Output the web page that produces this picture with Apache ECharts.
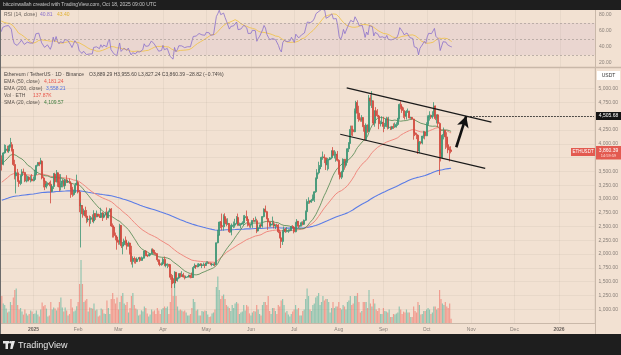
<!DOCTYPE html>
<html><head><meta charset="utf-8">
<script src="https://cdn.jsdelivr.net/npm/echarts@6/dist/echarts.min.js"></script>
<style>html,body{margin:0;padding:0;background:#f2e1d2}#c{width:621px;height:355px}</style>
</head><body><div id="c"></div>
<script>
// ---------- DATA ----------
const firstDay = Date.UTC(2024, 11, 10);   // first candle: 10 Dec 2024, daily candles
// closes before the first visible candle (20 Nov - 9 Dec 2024), used for indicators only
const preCloses = [3070,3355,3325,3395,3360,3415,3325,3655,3580,3590,3705,3705,3645,3615,3840,3790,4000,3995,4005,3710];
const closes = [
 3630,3835,3880,3905,3870,3960,3985,3885,3625,3420,3475,3330,3280,3420,3490,3480,3330,3330,3395,3350,3360,3330,
 3353,3451,3605,3657,3635,3685,3380,3325,3220,3268,3282,3265,3135,3225,3450,3310,3475,3305,3215,3280,3325,3240,3340,3305,3315,3285,3180,3080,3115,3250,3300,
 3125,2870,2880,2730,2785,2690,2620,2635,2630,2660,2600,2735,2675,2725,2690,2665,2745,2670,2715,2740,2660,2765,2815,2510,2490,2335,2310,2235,
 2215,2520,2150,2170,2240,2200,2140,2200,2020,1865,1920,1910,1865,1910,1935,1885,1925,1930,2055,1980,1965,1980,2005,2080,2065,2010,2000,1895,1825,1805,1825,
 1905,1795,1815,1815,1805,1580,1555,1475,1670,1520,1565,1645,1595,1625,1585,1575,1585,1590,1615,1580,1575,1755,1795,1770,1785,1820,1795,1800,1800,1795,
 1840,1840,1835,1810,1815,1815,1810,2205,2345,2580,2515,2495,2680,2610,2545,2555,2405,2500,2525,2525,2555,2665,2525,2535,2545,2565,2660,2680,2630,2530,2525,
 2540,2610,2595,2605,2420,2480,2525,2510,2680,2815,2770,2645,2580,2525,2545,2550,2510,2525,2520,2405,2295,2230,2405,2450,2415,2420,2425,2435,2500,2485,
 2405,2570,2595,2505,2515,2570,2540,2615,2770,2955,2955,2945,2975,3015,3130,3370,3475,3545,3590,3755,3760,3745,3620,3710,3715,3745,3875,3795,3795,3810,3700,
 3480,3395,3495,3720,3610,3680,3910,4010,4260,4255,4220,4600,4750,4555,4440,4430,4475,4310,4075,4340,4230,4830,4780,4780,4375,4600,4510,4505,4365,4375,4390,
 4315,4330,4450,4295,4300,4275,4310,4305,4310,4350,4460,4715,4670,4605,4525,4500,4590,4590,4470,4480,4450,4200,4165,4155,3870,4030,4015,4140,4215,4145,
 4350,4485,4515,4485,4515,4685,4460,4525,4370,3835,3750,4155,4245,4125,3985,3890,3889.29,3860.39
];
const highs = [
 3790,3850,3990,3980,3965,3970,4107,4030,3905,3710,3500,3545,3400,3440,3540,3550,3490,3440,3420,3410,3425,3450,
 3406,3530,3620,3670,3675,3745,3700,3410,3345,3320,3300,3310,3335,3255,3470,3475,3525,3470,3450,3450,3360,3345,3360,3430,3350,3370,3295,3220,3170,3290,3440,
 3330,3160,2930,2890,2825,2860,2800,2660,2700,2690,2720,2795,2740,2790,2730,2725,2840,2760,2740,2770,2845,2790,2830,2835,2555,2520,2390,2320,
 2260,2550,2525,2220,2280,2320,2260,2230,2205,2150,1960,1955,1925,1940,1945,1950,1955,1935,2065,2070,1990,2010,2020,2100,2105,2075,2035,2015,1905,1855,1850,
 1930,1955,1830,1830,1820,1815,1640,1620,1690,1670,1575,1650,1660,1690,1660,1615,1610,1600,1625,1625,1665,1785,1830,1800,1830,1835,1835,1830,1845,1825,
 1870,1870,1850,1845,1830,1830,1850,2210,2440,2590,2600,2735,2720,2740,2645,2650,2560,2530,2555,2590,2640,2690,2735,2570,2560,2595,2705,2710,2790,2660,2560,
 2545,2615,2655,2680,2640,2525,2535,2545,2690,2830,2880,2785,2640,2595,2560,2680,2605,2540,2550,2545,2445,2300,2440,2500,2475,2490,2450,2450,2515,2525,
 2495,2585,2635,2600,2525,2590,2595,2625,2790,2995,3030,2975,3000,3080,3140,3390,3540,3675,3615,3765,3860,3810,3750,3745,3730,3760,3880,3940,3885,3860,3870,
 3720,3500,3510,3735,3725,3695,3920,4030,4330,4330,4330,4640,4780,4790,4690,4480,4520,4480,4340,4370,4350,4885,4890,4955,4780,4605,4665,4630,4525,4420,4500,
 4490,4380,4490,4480,4490,4315,4325,4370,4385,4390,4470,4730,4770,4690,4660,4530,4610,4640,4600,4490,4485,4455,4235,4200,4160,4050,4045,4145,4235,4230,
 4390,4515,4590,4530,4590,4755,4695,4530,4535,4390,3895,4175,4295,4165,4210,4095,3950,3955.60
];
const lows = [
 3515,3610,3820,3850,3845,3835,3930,3860,3600,3355,3100,3310,3220,3250,3400,3460,3305,3300,3320,3320,3300,3320,
 3320,3350,3435,3590,3595,3630,3355,3210,3160,3190,3230,3230,2920,3130,3180,3260,3300,3220,3140,3155,3210,3225,3180,3290,3290,3280,3020,3040,3060,3110,3270,
 3100,2760,2120,2660,2700,2660,2560,2580,2500,2550,2580,2560,2620,2670,2680,2655,2660,2600,2650,2700,2620,2650,2760,2490,2300,2300,2250,2080,
 2170,2170,2110,1995,2140,2160,2080,2140,1990,1810,1755,1830,1825,1855,1905,1860,1880,1890,1920,1960,1945,1965,1960,2005,2035,1990,1985,1860,1805,1780,1790,
 1820,1780,1760,1745,1770,1535,1385,1455,1385,1470,1500,1545,1575,1585,1575,1540,1560,1575,1580,1560,1565,1570,1745,1730,1760,1780,1785,1745,1785,1745,
 1790,1825,1825,1800,1780,1785,1780,1810,2195,2335,2470,2430,2425,2560,2505,2530,2385,2390,2340,2470,2480,2540,2515,2510,2465,2540,2520,2615,2600,2500,2480,
 2475,2475,2585,2590,2380,2410,2470,2490,2480,2665,2755,2630,2440,2495,2495,2520,2465,2455,2490,2380,2285,2110,2165,2375,2385,2395,2385,2410,2420,2465,
 2375,2395,2555,2470,2485,2500,2520,2530,2600,2765,2910,2915,2930,2960,2945,3110,3350,3445,3525,3580,3710,3650,3525,3515,3540,3705,3720,3775,3735,3675,3680,
 3440,3355,3360,3490,3530,3570,3655,3850,4000,4150,4140,4210,4550,4450,4400,4400,4400,4220,4060,4060,4200,4215,4690,4650,4340,4310,4490,4480,4265,4315,4365,
 4210,4270,4300,4260,4270,4250,4255,4270,4290,4295,4325,4440,4625,4560,4470,4440,4440,4560,4460,4455,4440,4075,4140,4085,3815,3830,3990,3990,4095,4080,
 4140,4335,4420,4450,4455,4490,4430,4370,4300,3435,3680,3730,4080,3905,3930,3830,3680,3827.24
];
// daily volume, thousands of ETH
const volumes = [
 900,650,600,480,350,380,700,600,850,1100,1150,600,450,500,380,280,450,320,250,300,420,380,
 300,320,420,280,220,450,680,560,600,480,220,250,700,450,520,480,420,520,700,850,520,380,520,420,250,300,800,520,380,420,560,
 700,1300,2100,1300,700,750,800,380,520,500,480,650,420,450,220,250,480,450,320,300,750,500,300,800,1000,800,650,850,
 450,700,900,1000,650,600,700,350,500,900,1000,600,480,450,250,280,420,380,550,500,320,220,280,450,380,420,300,500,420,300,450,
 500,550,500,550,300,700,1500,900,1300,900,550,420,450,420,380,420,350,250,250,300,500,800,700,420,450,250,250,400,380,420,
 400,280,200,220,320,350,450,1200,1550,1100,800,900,950,800,600,550,500,400,600,500,650,700,650,300,350,380,600,420,600,550,320,
 250,350,400,380,600,450,300,250,600,700,700,600,900,400,300,500,500,400,300,600,550,750,800,600,350,400,280,220,300,380,
 450,600,450,500,250,250,400,450,800,1150,900,450,400,600,650,850,900,1000,600,700,900,750,800,800,700,350,500,700,500,550,550,
 700,500,450,600,550,450,700,750,900,600,650,900,900,1000,700,350,400,700,700,700,500,1100,650,550,800,650,450,400,500,300,300,
 500,400,380,350,450,200,200,300,280,320,350,550,450,300,380,350,450,350,350,200,200,550,400,350,700,600,280,300,400,400,
 450,500,450,300,350,550,550,450,500,1100,800,650,600,700,550,500,650,137.87
];
const monthLabels = ['', 'Feb', 'Mar', 'Apr', 'May', 'Jun', 'Jul', 'Aug', 'Sep', 'Oct', 'Nov', 'Dec'];
const priceTicks = [1000,1250,1500,1750,2000,2250,2500,2750,3000,3250,3500,3750,4000,4250,4500,4750,5000];
const rsiTicks = [20, 40, 60, 80];
const rsiLevels = [70, 50, 30];
// drawn annotations (date, price)
const channelUpper = [[Date.UTC(2025,7,6,12), 5013], [Date.UTC(2025,10,15), 4393]];
const channelLower = [[Date.UTC(2025,7,2), 4173], [Date.UTC(2025,10,10,17), 3555]];
const arrowPts = [[Date.UTC(2025,9,21,14), 3938], [Date.UTC(2025,9,28,12), 4503]];
const targetLevel = 4505.68;
const targetFrom = Date.UTC(2025,9,29,5);
const ema50Seed = 3290, ema200Seed = 2970;
const headerTxt = 'Ethereum / TetherUS · 1D · Binance';
const ohlcTxt = 'O3,889.29 H3,955.60 L3,827.24 C3,860.39 −28.82 (−0.74%)';
const legendRows = [
  ['EMA (50, close)', '4,181.24', '#e8574c'],
  ['EMA (200, close)', '3,558.21', '#4f6fe0'],
  ['Vol · ETH', '137.87K', '#e8574c'],
  ['SMA (20, close)', '4,109.57', '#3c7a3c']
];
const rsiLegend = ['RSI (14, close)', '40.81', '43.40'];

if (closes.length !== 313 || highs.length !== 313 || lows.length !== 313 || volumes.length !== 313)
  throw new Error('len ' + closes.length + ' ' + highs.length + ' ' + lows.length + ' ' + volumes.length);

// ---------- BUILD ----------
const DAY = 864e5;
const jan1 = Date.UTC(2025,0,1);
const xMin = jan1 - 22.85 * DAY, xMax = jan1 + 389.2 * DAY;
const ts = closes.map((_, i) => firstDay + i * DAY);
const opens = closes.map((c, i) => i === 0 ? preCloses[preCloses.length - 1] : closes[i - 1]);
const candles = closes.map((c, i) => {
  const o = opens[i];
  return [ts[i], o, c, Math.min(lows[i], o, c), Math.max(highs[i], o, c)];
});
const UP = '#3a9474', DOWN = '#d2473c';
const volData = volumes.map((v, i) => ({ value: [ts[i], v], itemStyle: { color: closes[i] >= opens[i] ? 'rgba(70,175,150,0.55)' : 'rgba(240,100,90,0.55)' } }));
function ema(src, n, seed) { const k = 2 / (n + 1); let e = seed; return src.map(v => (e = v * k + e * (1 - k))); }
const ema50 = ema(closes, 50, ema50Seed).map((v, i) => [ts[i], v]);
const ema200 = ema(closes, 200, ema200Seed).map((v, i) => [ts[i], v]);
const all = preCloses.concat(closes);
const P = preCloses.length;
const sma20 = closes.map((c, i) => { let s = 0; for (let j = P + i - 19; j <= P + i; j++) s += all[j]; return [ts[i], s / 20]; });
// RSI (Wilder)
const rsiAll = [];
let ag = 0, al = 0;
for (let j = 1; j < all.length; j++) {
  const ch = all[j] - all[j - 1], g = Math.max(ch, 0), l = Math.max(-ch, 0);
  if (j <= 14) { ag += g / 14; al += l / 14; if (j === 14) rsiAll[j] = 100 - 100 / (1 + ag / al); }
  else { ag = (ag * 13 + g) / 14; al = (al * 13 + l) / 14; rsiAll[j] = 100 - 100 / (1 + ag / al); }
}
const rsi = closes.map((c, i) => [ts[i], rsiAll[P + i]]);
const rsiMa = closes.map((c, i) => {
  let s = 0, n = 0;
  for (let j = P + i - 13; j <= P + i; j++) if (rsiAll[j] !== undefined) { s += rsiAll[j]; n++; }
  return [ts[i], s / n];
});

const FONT = 'Liberation Sans';
const axisTxt = '#8a817a';
const faint = 'rgba(120,95,80,0.07)';
const sepCol = '#c9b8a9';

const xBase = { type: 'time', min: xMin, max: xMax, maxInterval: 31 * DAY, minInterval: 27 * DAY,
  axisTick: { show: false }, splitLine: { show: true, lineStyle: { color: faint, width: 1 } } };

const G = [];
function txt(x, y, t, fill, size, extra) {
  G.push({ type: 'text', x: x, y: y, z: 100, silent: true,
    style: { text: t, fill: fill, font: (extra && extra.bold ? 'bold ' : '') + size + 'px "' + FONT + '"', textVerticalAlign: 'middle', textAlign: (extra && extra.align) || 'left' } });
}
function box(x, y, w, h, fill) { G.push({ type: 'rect', z: 99, silent: true, shape: { x: x, y: y, width: w, height: h }, style: { fill: fill } }); }
function hline(x1, y1, x2, y2, col, w) { G.push({ type: 'line', z: 98, silent: true, shape: { x1: x1, y1: y1, x2: x2, y2: y2 }, style: { stroke: col, lineWidth: w } }); }

// frame
box(0, 0, 621, 10, '#1e1e1e');
txt(3, 5, 'bitcoinwallah created with TradingView.com, Oct 18, 2025 09:00 UTC', '#c8c8c8', 5);
box(0, 334, 621, 21, '#1e1e1e');
hline(0, 67.5, 621, 67.5, sepCol, 1.5);
hline(595.5, 10, 595.5, 334, sepCol, 1);
box(0, 10, 1, 324, '#6b6b6b');
// TradingView logo
box(3, 341, 6, 2.5, '#e6e6e6'); box(5.5, 341, 2.5, 8, '#e6e6e6');
G.push({ type: 'circle', z: 100, silent: true, shape: { cx: 10.5, cy: 342.3, r: 1.3 }, style: { fill: '#e6e6e6' } });
G.push({ type: 'polygon', z: 100, silent: true, shape: { points: [[11.5, 341], [15, 341], [12.5, 349], [10.2, 349]] }, style: { fill: '#e6e6e6' } });
txt(18, 345.5, 'TradingView', '#e6e6e6', 9);
// RSI legend
txt(4, 15, rsiLegend[0], '#6a625c', 5);
txt(40, 15, rsiLegend[1], '#8a70cc', 5);
txt(57, 15, rsiLegend[2], '#e0b030', 5);
// price legend
txt(4, 75, headerTxt, '#4a4440', 5);
txt(89, 75, ohlcTxt, '#4a4440', 5);
const valX = [44, 46, 33, 44];
legendRows.forEach((r, k) => { txt(4, 82 + k * 7, r[0], '#5a524c', 5); txt(valX[k], 82 + k * 7, r[1], r[2], 5); });
// axis boxes
box(597, 71, 23, 9, '#ffffff'); txt(608.5, 75.5, 'USDT', '#333333', 5, { align: 'center' });
box(596, 112, 25, 8, '#151515'); txt(608.5, 116, '4,505.68', '#ffffff', 5, { align: 'center' });
box(571, 148, 24, 8, '#e35a50'); txt(583, 152, 'ETHUSDT', '#ffffff', 4.5, { align: 'center' });
box(596, 146, 25, 13.5, '#e35a50'); txt(608.5, 150.5, '3,860.39', '#ffffff', 5, { align: 'center' }); txt(608.5, 156, '14:59:59', '#ffe0dc', 4, { align: 'center' });

const fmtPrice = v => v.toLocaleString('en-US', { minimumFractionDigits: 2, maximumFractionDigits: 2 });

const option = {
  animation: false,
  useUTC: true,
  backgroundColor: '#f2e1d2',
  textStyle: { fontFamily: FONT },
  grid: [
    { left: 0, right: 26, top: 10, height: 57 },
    { left: 0, right: 26, top: 68, bottom: 32 }
  ],
  xAxis: [
    Object.assign({}, xBase, { gridIndex: 0, axisLabel: { show: false }, axisLine: { show: false } }),
    Object.assign({}, xBase, { gridIndex: 1, axisLine: { show: true, lineStyle: { color: sepCol, width: 1 } },
      axisLabel: { show: true, margin: 4, fontSize: 5, color: axisTxt, fontFamily: FONT, hideOverlap: false,
        formatter: v => { const d = new Date(v); if (d.getUTCDate() !== 1 || d.getUTCHours() !== 0) return ''; const m = d.getUTCMonth(); return m === 0 ? '{y|' + d.getUTCFullYear() + '}' : monthLabels[m]; },
        rich: { y: { fontSize: 5, fontWeight: 'bold', color: '#6a625c', fontFamily: FONT } } } })
  ],
  yAxis: [
    { type: 'value', gridIndex: 0, position: 'right', min: 15, max: 86.25, axisLine: { show: false }, axisTick: { show: false }, splitLine: { show: false },
      axisLabel: { show: true, customValues: rsiTicks, margin: 4, fontSize: 5, color: axisTxt, fontFamily: FONT, formatter: v => v.toFixed(2) } },
    { type: 'value', gridIndex: 1, position: 'right', min: 750, max: 5375, axisLine: { show: false }, axisTick: { show: false, customValues: priceTicks },
      splitLine: { show: true, lineStyle: { color: faint } },
      axisLabel: { show: true, customValues: priceTicks, margin: 4, fontSize: 5, color: axisTxt, fontFamily: FONT, formatter: fmtPrice } },
    { type: 'value', gridIndex: 1, min: 0, max: 8500, show: false, splitLine: { show: false } }
  ],
  series: [
    { type: 'bar', name: 'vol', xAxisIndex: 1, yAxisIndex: 2, data: volData, barWidth: 1.2, z: 1, silent: true },
    { type: 'line', name: 'ema200', xAxisIndex: 1, yAxisIndex: 1, data: ema200, showSymbol: false, lineStyle: { color: '#5b7ce6', width: 1.1 }, z: 3, silent: true },
    { type: 'line', name: 'ema50', xAxisIndex: 1, yAxisIndex: 1, data: ema50, showSymbol: false, lineStyle: { color: '#f08a80', width: 1 }, z: 3, silent: true },
    { type: 'line', name: 'sma20', xAxisIndex: 1, yAxisIndex: 1, data: sma20, showSymbol: false, lineStyle: { color: '#4c854c', width: 0.8 }, z: 3, silent: true },
    { type: 'candlestick', name: 'ETH', xAxisIndex: 1, yAxisIndex: 1, data: candles, barWidth: 1.5, z: 4, silent: true,
      encode: { x: 0, y: [1, 2, 3, 4] },
      itemStyle: { color: UP, color0: DOWN, borderColor: UP, borderColor0: DOWN, borderWidth: 0.8 },
      markLine: { silent: true, animation: false, symbol: ['none', 'none'], label: { show: false },
        data: [
          [{ coord: channelUpper[0], lineStyle: { color: '#1a1a1a', width: 1.2, type: 'solid' } }, { coord: channelUpper[1] }],
          [{ coord: channelLower[0], lineStyle: { color: '#1a1a1a', width: 1.2, type: 'solid' } }, { coord: channelLower[1] }],
          [{ coord: [targetFrom, targetLevel], lineStyle: { color: '#222', width: 1, type: [1.5, 1.5] } }, { coord: [xMax, targetLevel] }],
          [{ coord: arrowPts[0], symbol: 'none', lineStyle: { color: '#111', width: 2.6, type: 'solid' } }, { coord: arrowPts[1], symbol: 'arrow', symbolSize: [9, 11] }]
        ] } },
    { type: 'line', name: 'rsiMa', xAxisIndex: 0, yAxisIndex: 0, data: rsiMa, showSymbol: false, lineStyle: { color: '#f0c040', width: 0.8 }, z: 3, silent: true },
    { type: 'line', name: 'rsi', xAxisIndex: 0, yAxisIndex: 0, data: rsi, showSymbol: false, lineStyle: { color: '#8a70cc', width: 0.8 }, z: 4, silent: true,
      markArea: { silent: true, itemStyle: { color: 'rgba(150,110,190,0.09)' }, data: [[{ yAxis: rsiLevels[0], x: 0 }, { yAxis: rsiLevels[2], x: 595 }]] },
      markLine: { silent: true, symbol: ['none', 'none'], label: { show: false }, lineStyle: { color: '#a89c96', type: [2, 2], width: 0.7 },
        data: rsiLevels.map(v => ({ yAxis: v })) } }
  ],
  graphic: G
};
const chart = echarts.init(document.getElementById('c'), null, { renderer: 'canvas' });
chart.setOption(option);
</script>
</body></html>
